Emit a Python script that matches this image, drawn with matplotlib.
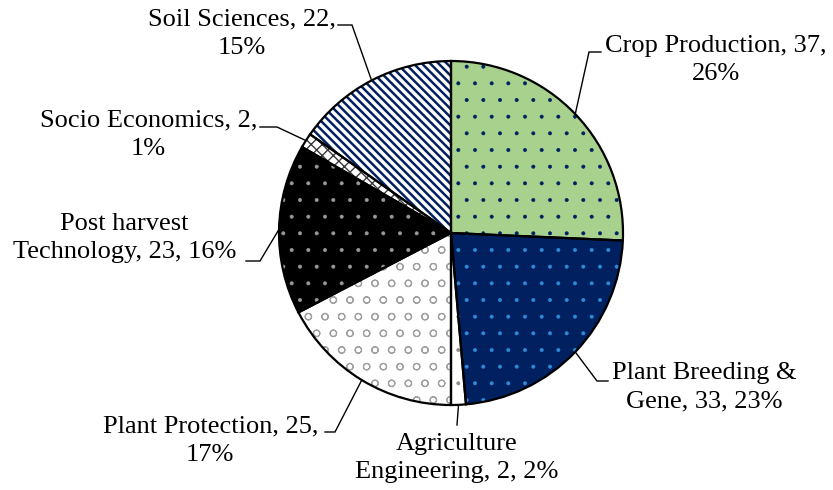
# pie chart of research areas with excel-like hatching and leader lines
import matplotlib
matplotlib.use("Agg")
import matplotlib.pyplot as plt
from matplotlib.patches import Wedge
import numpy as np

categories = ["Crop Production", "Plant Breeding &\nGene", "Agriculture\nEngineering",
              "Plant Protection", "Post harvest\nTechnology", "Socio Economics", "Soil Sciences"]
values = [37, 33, 2, 25, 23, 2, 22]
percents = [26, 23, 2, 17, 16, 1, 15]
# how the label text breaks after the name (excel wrapping)
label_texts = ["Crop Production, 37,\n26%", "Plant Breeding &\nGene, 33, 23%",
               "Agriculture\nEngineering, 2, 2%", "Plant Protection, 25,\n17%",
               "Post harvest\nTechnology, 23, 16%", "Socio Economics, 2,\n1%",
               "Soil Sciences, 22,\n15%"]

face = ["#A9D18E", "#002060", "white", "white", "black", "white", "white"]
hatches = [".", ".", ".", "o", ".", "xxx", "\\\\\\\\"]
hatch_cols = ["#002060", "#2E8BD8", "#8C8C8C", "#A0A0A0", "#9A9A9A", "#3A3A3A", "#002060"]
hatch_lw = [0.4, 0.4, 0.4, 0.8, 0.4, 1.0, 1.8]

W, H = 833, 490
def px(x, y):
    return (x, H - y)

# label layout in pixels: (text x, text y, ha, elbow, end of horizontal)
layout = [
    (605, 60, "left", (589, 52), (601, 52)),
    (612, 387, "left", (597, 381), (608, 381)),
    (457, 458, "center", (457, 425), (457, 425)),
    (318, 441, "right", (335, 432), (325, 432)),
    (236, 238, "right", (260, 261), (246, 261)),
    (257, 135, "right", (277, 127), (260, 127)),
    (336, 34, "right", (352, 25), (338, 25)),
]

plt.rcParams["font.family"] = ["Liberation Serif", "DejaVu Serif"]

fig = plt.figure(figsize=(W / 100, H / 100), dpi=100)
ax = fig.add_axes([0, 0, 1, 1])

cx, cy = px(451, 233)
r = 172
wedges, _ = ax.pie(values, colors=face, startangle=90, counterclock=False,
                   center=(cx, cy), radius=r, wedgeprops=dict(linewidth=0))

for i, w in enumerate(wedges):
    hp = Wedge(w.center, w.r, w.theta1, w.theta2, facecolor="none",
               edgecolor=hatch_cols[i], linewidth=0, hatch=hatches[i])
    if hasattr(hp, "set_hatch_linewidth"):
        hp.set_hatch_linewidth(hatch_lw[i])
    ax.add_patch(hp)
for w in wedges:
    ax.add_patch(Wedge(w.center, w.r, w.theta1, w.theta2, facecolor="none",
                       edgecolor="black", linewidth=1.6))

for i, w in enumerate(wedges):
    mid = np.deg2rad((w.theta1 + w.theta2) / 2)
    sx, sy = cx + r * np.cos(mid), cy + r * np.sin(mid)
    tx, ty, ha, elbow, end = layout[i]
    ex, ey = px(*elbow)
    fx, fy = px(*end)
    ax.plot([sx, ex, fx], [sy, ey, fy], color="black", lw=1.0, solid_joinstyle="miter")
    ax.text(*px(tx, ty), label_texts[i], ha=ha, va="center", multialignment="center",
            fontsize=19, linespacing=1.38)

ax.set_xlim(0, W)
ax.set_ylim(0, H)
ax.set_aspect("auto")
ax.axis("off")

plt.savefig("out.png", dpi=100)
plt.close()
